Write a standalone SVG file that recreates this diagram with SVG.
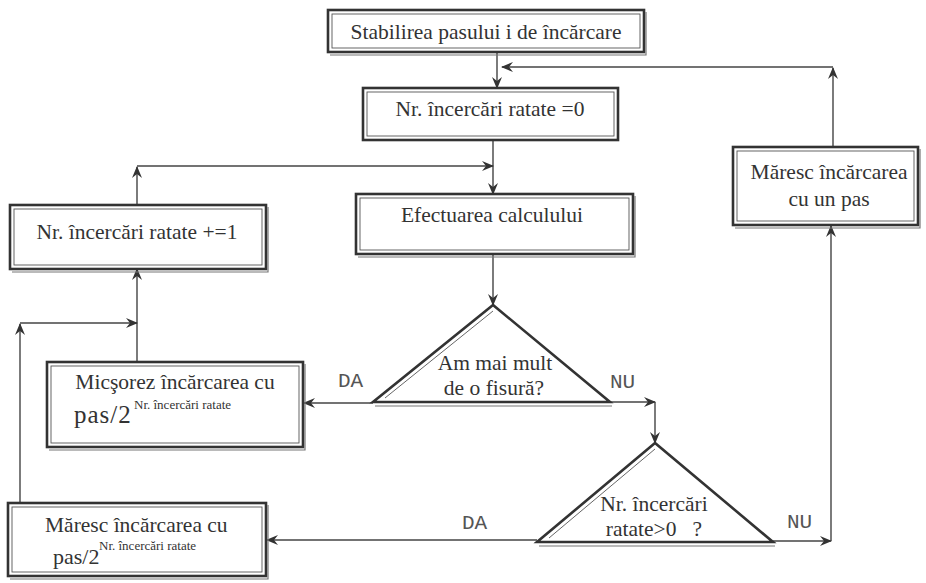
<svg xmlns="http://www.w3.org/2000/svg" width="926" height="583" viewBox="0 0 926 583">
<defs>
<marker id="arr" viewBox="0 0 12 10" refX="11" refY="5" markerWidth="12" markerHeight="10" markerUnits="userSpaceOnUse" orient="auto">
<path d="M0,0 L12,5 L0,10 L4,5 z" fill="#333"/>
</marker>
<style>
.box{fill:#fff;stroke:#333;stroke-width:2.6}
.inner{fill:none;stroke:#555;stroke-width:0.9}
.shadow{fill:none;stroke:#777;stroke-width:1.2}
.tri{fill:#fff;stroke:#333;stroke-width:2.6;stroke-linejoin:miter}
.t{font-size:21.5px;fill:#333}
.sup{font-size:13px;fill:#333}
.lbl{font-size:21px;fill:#555}
.c{fill:none;stroke:#444;stroke-width:1.4}
</style>
</defs>
<rect width="926" height="583" fill="#fff"/>

<g id="connectors">
<path class="c" d="M497,52 V88" marker-end="url(#arr)"/>
<path class="c" d="M833,147 V68" marker-end="url(#arr)"/>
<path class="c" d="M833,67 H502" marker-end="url(#arr)"/>
<path class="c" d="M493,140 V194" marker-end="url(#arr)"/>
<path class="c" d="M137,205 V167" marker-end="url(#arr)"/>
<path class="c" d="M137,166 H493" marker-end="url(#arr)"/>
<path class="c" d="M493,254 V305" marker-end="url(#arr)"/>
<path class="c" d="M373,403 H304" marker-end="url(#arr)"/>
<path class="c" d="M610,402 H655" marker-end="url(#arr)"/>
<path class="c" d="M655,402 V443" marker-end="url(#arr)"/>
<path class="c" d="M137,362 V269" marker-end="url(#arr)"/>
<path class="c" d="M20,503 V324" marker-end="url(#arr)"/>
<path class="c" d="M20,323 H137" marker-end="url(#arr)"/>
<path class="c" d="M537,540 H267" marker-end="url(#arr)"/>
<path class="c" d="M773,541 H831" marker-end="url(#arr)"/>
<path class="c" d="M831,541 V226" marker-end="url(#arr)"/>
<g font-family="'Liberation Mono','DejaVu Sans Mono','Courier New',monospace">
<text class="lbl" x="338" y="387">DA</text>
<text class="lbl" x="610" y="388">NU</text>
<text class="lbl" x="462" y="529">DA</text>
<text class="lbl" x="787" y="528">NU</text>
</g>
</g>

<g font-family="'Liberation Serif','DejaVu Serif','Times New Roman',serif">
<g id="n-stabilirea">
<rect class="box" x="328" y="10" width="316" height="42"/>
<rect class="inner" x="332" y="14" width="308" height="34"/>
<path class="shadow" d="M330,55 H646 V12"/>
<text class="t" x="486" y="39" text-anchor="middle">Stabilirea pasului i de încărcare</text>
</g>

<g id="n-init">
<rect class="box" x="363" y="88" width="255" height="52"/>
<rect class="inner" x="367" y="92" width="247" height="44"/>
<text class="t" x="490" y="116" text-anchor="middle">Nr. încercări ratate =0</text>
</g>

<g id="n-calcul">
<rect class="box" x="356" y="194" width="277" height="60"/>
<rect class="inner" x="360" y="198" width="269" height="52"/>
<path class="shadow" d="M358,257 H635 V196"/>
<text class="t" x="492" y="222" text-anchor="middle">Efectuarea calculului</text>
</g>

<g id="n-increment">
<rect class="box" x="10" y="205" width="256" height="64"/>
<rect class="inner" x="14" y="209" width="248" height="56"/>
<path class="shadow" d="M12,272 H268 V207"/>
<text class="t" x="137" y="239" text-anchor="middle">Nr. încercări ratate +=1</text>
</g>

<g id="n-micsorez">
<rect class="box" x="47" y="362" width="256" height="85"/>
<rect class="inner" x="51" y="366" width="248" height="77"/>
<path class="shadow" d="M49,450 H305 V364"/>
<text class="t" x="175" y="389" text-anchor="middle">Micşorez încărcarea cu</text>
<text class="t" x="74" y="423" style="font-size:25px;letter-spacing:1px">pas/2</text>
<text class="sup" x="134" y="409">Nr. încercări ratate</text>
</g>

<g id="n-maresc-pas2">
<rect class="box" x="8" y="503" width="258" height="73"/>
<rect class="inner" x="12" y="507" width="250" height="65"/>
<path class="shadow" d="M10,579 H268 V505"/>
<text class="t" x="45" y="532">Măresc încărcarea cu</text>
<text class="t" x="53" y="564" style="font-size:22px">pas/2</text>
<text class="sup" x="99" y="550">Nr. încercări ratate</text>
</g>

<g id="n-maresc-pas">
<rect class="box" x="733" y="147" width="185" height="78"/>
<rect class="inner" x="737" y="151" width="177" height="70"/>
<path class="shadow" d="M735,228 H920 V149"/>
<text class="t" x="829" y="179" text-anchor="middle">Măresc încărcarea</text>
<text class="t" x="829" y="206" text-anchor="middle">cu un pas</text>
</g>

<g id="n-fisura">
<polygon class="tri" points="493,305 373,402 610,402"/>
<path class="inner" d="M493,311 L385,398"/>
<path class="shadow" d="M375,406 H612"/>
<text class="t" x="495" y="370" text-anchor="middle">Am mai mult</text>
<text class="t" x="494" y="395" text-anchor="middle">de o fisură?</text>
</g>

<g id="n-ratate">
<polygon class="tri" points="655,443 537,542 773,542"/>
<path class="inner" d="M655,449 L549,538"/>
<path class="shadow" d="M539,546 H775"/>
<text class="t" x="654" y="511" text-anchor="middle">Nr. încercări</text>
<text class="t" x="654" y="536" text-anchor="middle" xml:space="preserve">ratate&gt;0   ?</text>
</g>
</g>
</svg>
